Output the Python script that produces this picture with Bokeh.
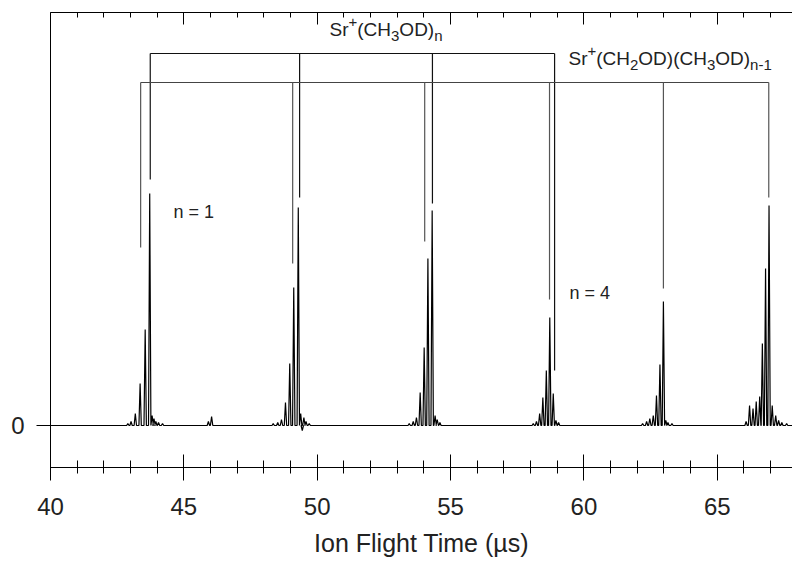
from bokeh.plotting import figure
from bokeh.models import LinearAxis, FixedTicker, Range1d, Label, ColumnDataSource, CustomJSTickFormatter
from bokeh.embed import file_html
from bokeh.resources import INLINE

# ---- data (time in microseconds, intensity in arbitrary units) ----
peak_t = [42.90, 43.02, 43.18, 43.36, 43.55, 43.72, 43.81, 43.88, 43.95, 44.05, 44.20,
          45.92, 46.04,
          48.35, 48.52, 48.66, 48.81, 48.97, 49.12, 49.29, 49.38, 49.44, 49.50, 49.58, 49.70,
          53.45, 53.60, 53.72, 53.86, 54.01, 54.15, 54.31, 54.42, 54.50, 54.60,
          58.10, 58.22, 58.34, 58.46, 58.59, 58.72, 58.85, 58.95, 59.05,
          62.20, 62.35, 62.47, 62.60, 62.72, 62.85, 62.98, 63.07, 63.15, 63.30,
          66.08, 66.21, 66.34, 66.46, 66.59, 66.69, 66.81, 66.94, 67.06, 67.19, 67.30, 67.42, 67.60]
peak_h = [2, 4, 12, 42, 96, 232, 10, 7, 4, 3, 2,
          4, 9,
          2, 3, 6, 23, 62, 138, 218, 12, -5, 8, 4, 2,
          2, 4, 8, 33, 78, 167, 215, 10, 6, 3,
          2, 4, 12, 28, 55, 108, 32, 5, 3,
          2, 4, 7, 10, 30, 61, 124, 5, 3, 2,
          4, 20, 17, 24, 29, 82, 157, 220, 20, 10, 5, 3, 2]

# assignment combs
comb1_t = [43.74, 49.34, 54.32, 58.90]          # Sr+(CH3OD)n
comb1_end = [246, 228, 222, 55]
comb1_level = 372
comb2_t = [43.38, 49.08, 54.03, 58.71, 62.98, 66.93]   # Sr+(CH2OD)(CH3OD)n-1
comb2_end = [178, 162, 184, 126, 137, 228]
comb2_level = 343

x_major_ticks = [40, 45, 50, 55, 60, 65]
x_minor_ticks = [41, 42, 43, 44, 46, 47, 48, 49, 51, 52, 53, 54, 56, 57, 58, 59,
                 61, 62, 63, 64, 66, 67]
y_ticks = [0]

FONT = "Liberation Sans"

# ---- build the trace polyline from the peak list ----
half_w = 0.045
pairs = sorted(zip(peak_t, peak_h))
tx = [40.0]
ty = [0.0]
for t, h in pairs:
    tx += [t - half_w, t, t + half_w]
    ty += [0.0, h, 0.0]
tx.append(68.0)
ty.append(0.0)
trace = ColumnDataSource(dict(t=tx, y=ty))

p = figure(width=792, height=562, output_backend="svg", toolbar_location=None,
           x_range=Range1d(40, 67.82), y_range=Range1d(-42, 413),
           x_axis_location=None, y_axis_location=None,
           min_border_left=50, min_border_right=0, min_border_top=12, min_border_bottom=95)
p.outline_line_color = None
p.grid.visible = False
p.background_fill_color = "white"

# axes
xt = FixedTicker(ticks=x_major_ticks, minor_ticks=x_minor_ticks)
bottom = LinearAxis(ticker=xt, axis_label="Ion Flight Time (µs)")
bottom.major_tick_in = 13
bottom.major_tick_out = 13
bottom.minor_tick_in = 7
bottom.minor_tick_out = 6
bottom.major_label_text_font = FONT
bottom.major_label_text_font_size = "24px"
bottom.major_label_text_color = "#222222"
bottom.major_label_standoff = 17
bottom.axis_label_text_font = FONT
bottom.axis_label_text_font_size = "25px"
bottom.axis_label_text_font_style = "normal"
bottom.axis_label_text_color = "#222222"
bottom.axis_label_standoff = 11
bottom.axis_line_color = "black"
bottom.major_tick_line_color = "black"
bottom.minor_tick_line_color = "black"
p.add_layout(bottom, "below")

top = LinearAxis(ticker=FixedTicker(ticks=x_major_ticks, minor_ticks=x_minor_ticks),
                 formatter=CustomJSTickFormatter(code="return ''"))
top.major_tick_in = 12
top.major_tick_out = 0
top.minor_tick_in = 5
top.minor_tick_out = 0
top.major_label_standoff = 0
top.major_label_text_font_size = "1px"
top.axis_line_color = "black"
top.major_tick_line_color = "black"
top.minor_tick_line_color = "black"
p.add_layout(top, "above")

left = LinearAxis(ticker=FixedTicker(ticks=y_ticks, minor_ticks=[]))
left.major_tick_in = 0
left.major_tick_out = 14
left.minor_tick_in = 0
left.minor_tick_out = 0
left.major_label_text_font = FONT
left.major_label_text_font_size = "24px"
left.major_label_text_color = "#222222"
left.major_label_standoff = 12
left.axis_line_color = "black"
left.major_tick_line_color = "black"
p.add_layout(left, "left")

# spectrum
p.line("t", "y", source=trace, line_color="black", line_width=1.2)

# combs
p.segment(x0=[comb1_t[0]], y0=[comb1_level], x1=[comb1_t[-1]], y1=[comb1_level],
          line_color="#111111", line_width=1.2)
p.segment(x0=comb1_t, y0=[comb1_level] * len(comb1_t), x1=comb1_t, y1=comb1_end,
          line_color="#111111", line_width=1.2)
p.segment(x0=[comb2_t[0]], y0=[comb2_level], x1=[comb2_t[-1]], y1=[comb2_level],
          line_color="#444444", line_width=1.2)
p.segment(x0=comb2_t, y0=[comb2_level] * len(comb2_t), x1=comb2_t, y1=comb2_end,
          line_color="#555555", line_width=1.2)

# rich labels built from pieces
W = {'S': 0.667, 'r': 0.333, '(': 0.333, ')': 0.333, 'C': 0.722, 'H': 0.722,
     'O': 0.778, 'D': 0.722, 'n': 0.556, '+': 0.584, '-': 0.333, '1': 0.556,
     '2': 0.556, '3': 0.556}


def rich_label(x, y, pieces, main=19, small=15):
    off = 0.0
    for txt, kind in pieces:
        size = main if kind == 0 else small
        dy = 0 if kind == 0 else (8 if kind > 0 else -6)
        p.add_layout(Label(x=x, y=y, x_units="data", y_units="data", text=txt,
                           x_offset=off, y_offset=dy, text_font=FONT,
                           text_font_size=f"{size}px", text_color="#222222",
                           text_baseline="alphabetic", text_align="left"))
        off += sum(W.get(c, 0.55) for c in txt) * size


rich_label(50.46, 396, [("Sr", 0), ("+", 1), ("(CH", 0), ("3", -1), ("OD)", 0), ("n", -1)])
rich_label(59.42, 367, [("Sr", 0), ("+", 1), ("(CH", 0), ("2", -1), ("OD)(CH", 0),
                        ("3", -1), ("OD)", 0), ("n-1", -1)])

for x, y, txt in [(44.61, 214, "n = 1"), (59.46, 133, "n = 4")]:
    p.add_layout(Label(x=x, y=y, text=txt, text_font=FONT, text_font_size="18px",
                       text_color="#222222", text_baseline="alphabetic", text_align="left"))

open("out.html", "w").write(file_html(p, INLINE))
